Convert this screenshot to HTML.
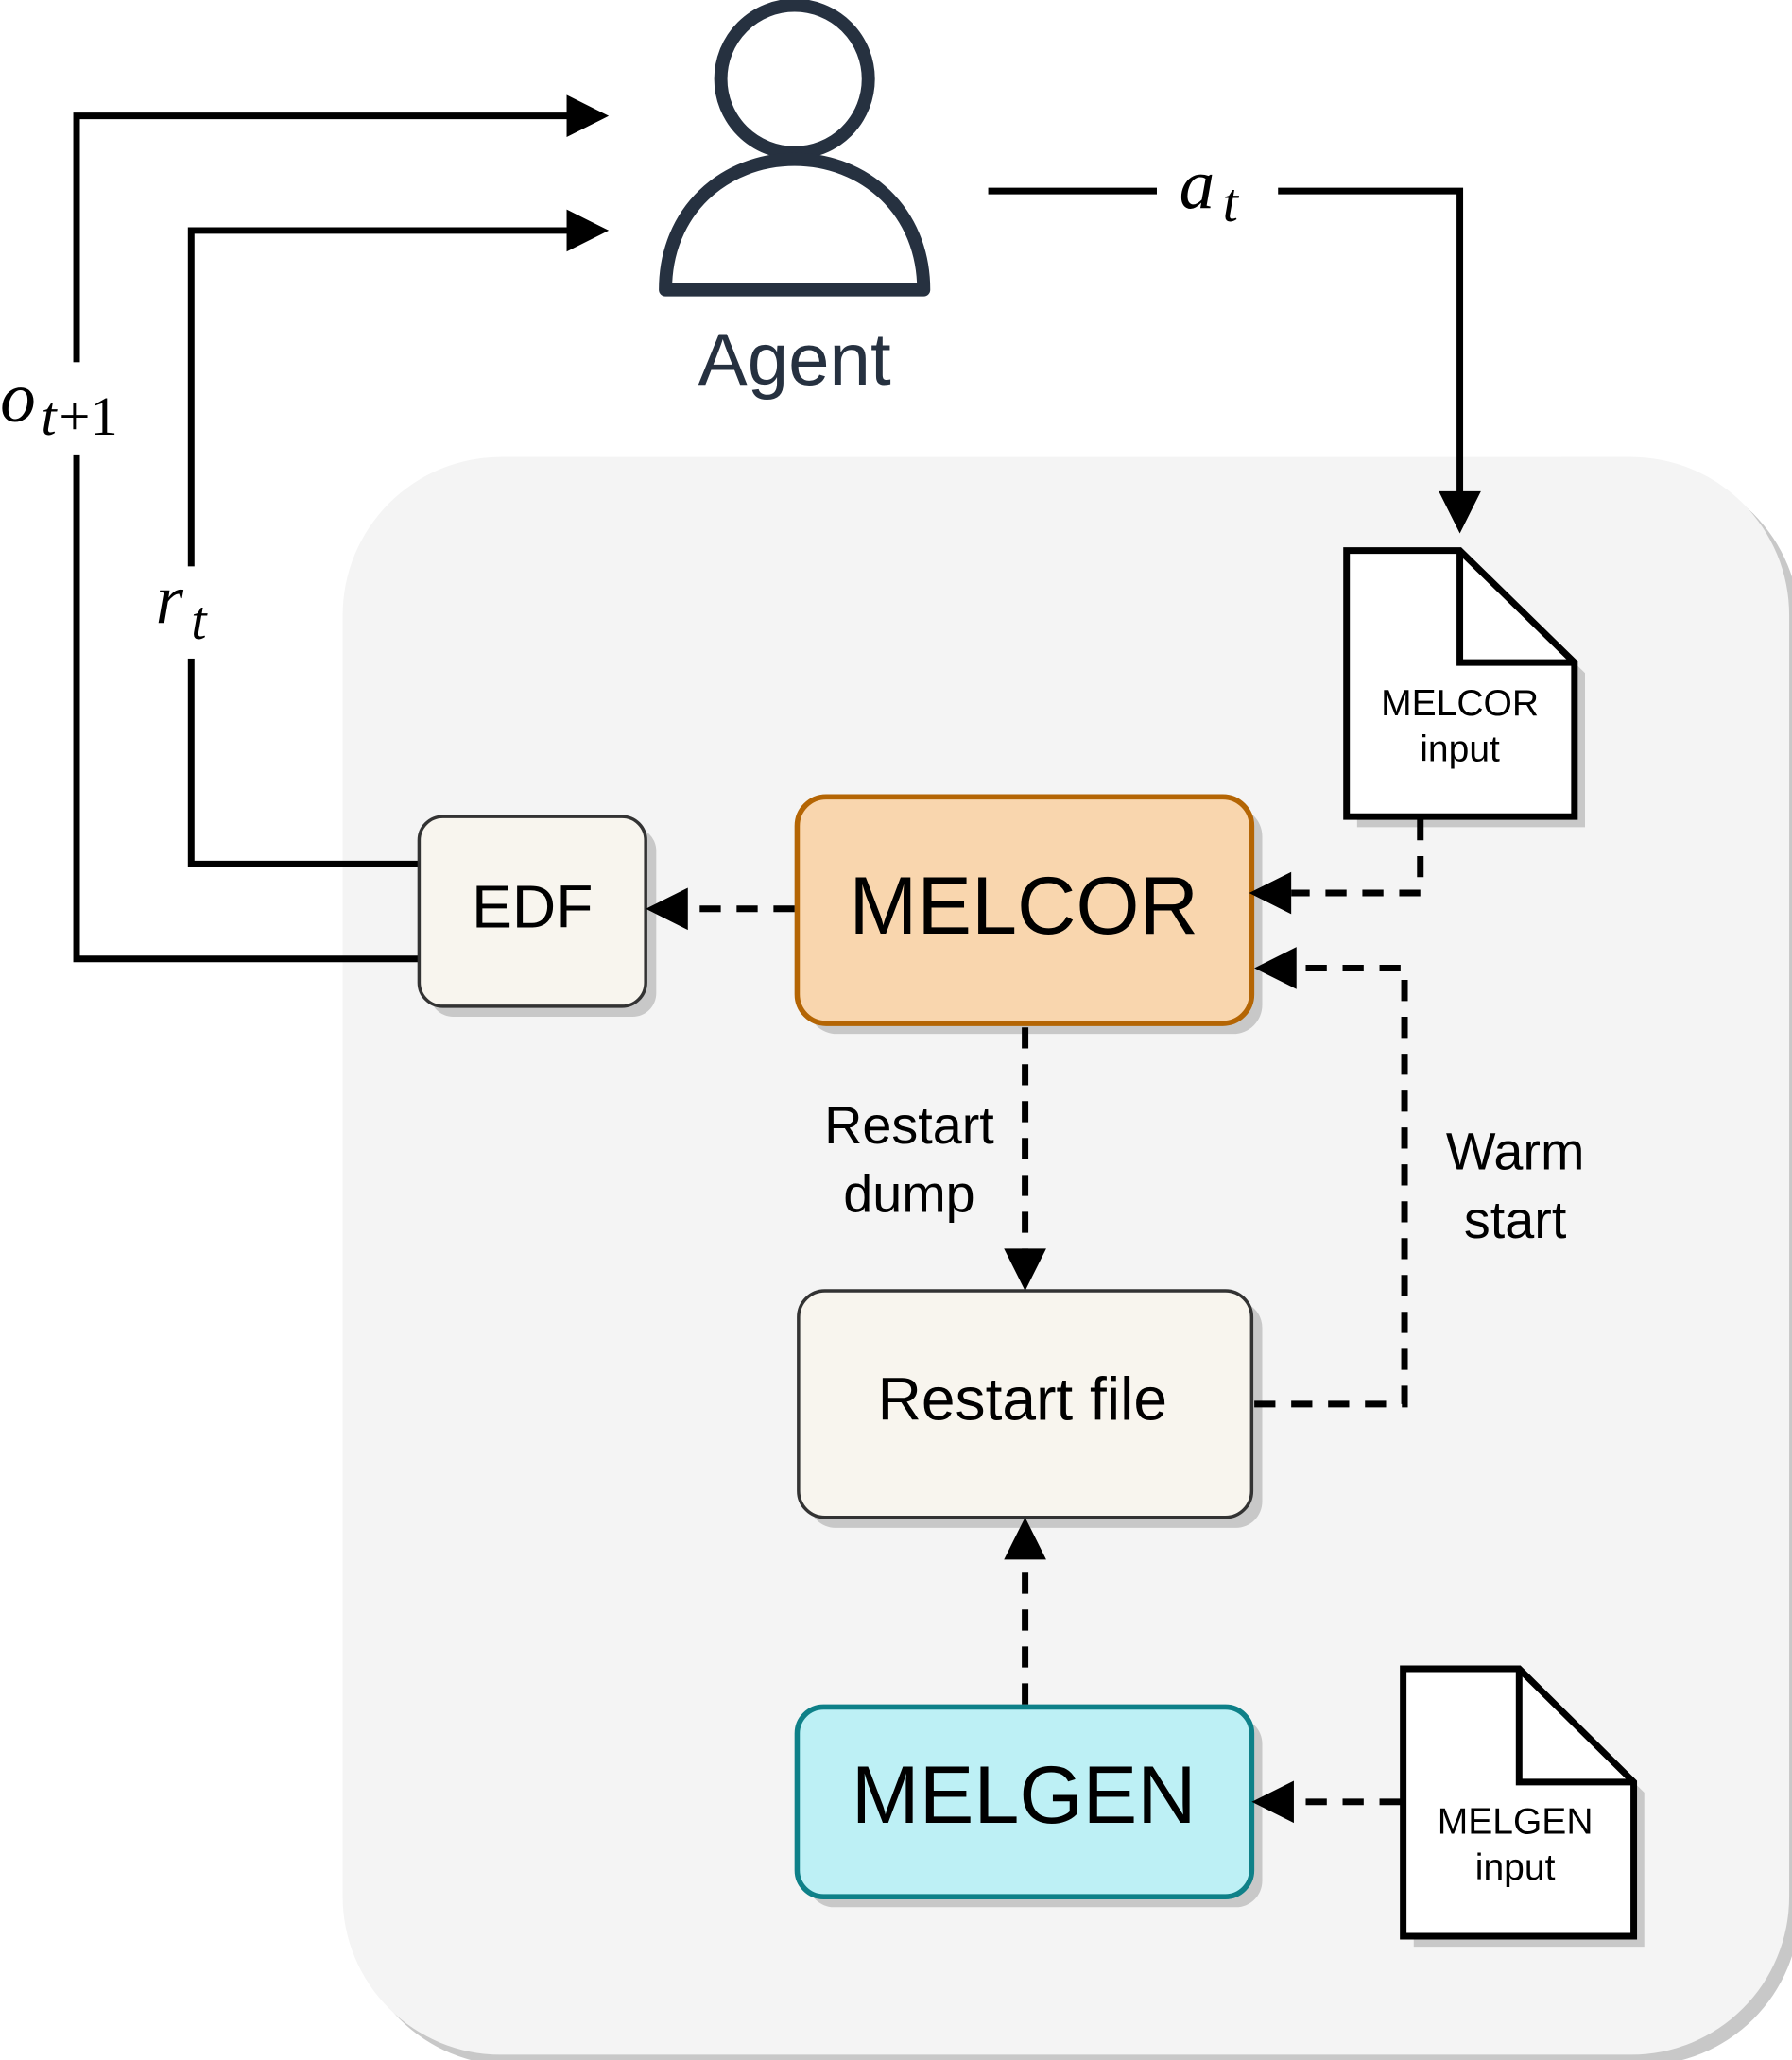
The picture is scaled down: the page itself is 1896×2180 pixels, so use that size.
<!DOCTYPE html>
<html><head><meta charset="utf-8"><style>
html,body{margin:0;padding:0;background:#fff;}
svg{display:block;}
text{font-family:"Liberation Sans",sans-serif;}
.m{font-family:"Liberation Serif",serif;font-style:italic;}
</style></head><body>
<svg width="1896" height="2180" viewBox="0 0 1360 1564" xmlns="http://www.w3.org/2000/svg">
<!-- container -->
<rect x="268" y="355" width="1098" height="1213" rx="120" fill="#c8c8c8"/>
<rect x="260" y="347" width="1098" height="1213" rx="120" fill="#f4f4f4"/>

<!-- agent -->
<circle cx="603" cy="60" r="56" fill="none" stroke="#263140" stroke-width="10"/>
<path d="M505,220 C505,160 550,121 603,121 C656,121 701,160 701,220 Z" fill="none" stroke="#263140" stroke-width="10" stroke-linejoin="round"/>
<text x="603" y="292" font-size="56" fill="#263140" text-anchor="middle">Agent</text>

<g stroke="#000" stroke-width="5" fill="none">
<polyline points="318,728 58,728 58,88 432,88"/>
<polyline points="318,656 145,656 145,175 432,175"/>
<polyline points="750,145 1108,145 1108,375"/>
</g>
<g fill="#000">
<polygon points="462,88 430,72 430,104"/>
<polygon points="462,175 430,159 430,191"/>
<polygon points="1108,405 1092,373 1124,373"/>
</g>
<rect x="20" y="275" width="90" height="70" fill="#fff"/>
<rect x="110" y="430" width="70" height="70" fill="#fff"/>
<rect x="878" y="115" width="92" height="60" fill="#fff"/>
<text class="m" x="0" y="320" font-size="54">o<tspan font-size="42" dx="4" dy="10" font-style="italic">t</tspan><tspan font-size="42" font-style="normal" dx="2">+1</tspan></text>
<text class="m" x="118" y="473" font-size="54">r<tspan font-size="42" dx="6" dy="12">t</tspan></text>
<text class="m" x="895" y="158" font-size="54">a<tspan font-size="42" dx="6" dy="10">t</tspan></text>

<!-- MELCOR input doc -->
<polygon points="1030,426 1116,426 1203,511 1203,628 1030,628" fill="#c8c8c8"/>
<polygon points="1022,418 1108,418 1195,503 1195,620 1022,620" fill="#fff" stroke="#000" stroke-width="5"/>
<polyline points="1108,418 1108,503 1195,503" fill="none" stroke="#000" stroke-width="5"/>
<text x="1108" y="543" font-size="28" text-anchor="middle">MELCOR</text>
<text x="1108" y="578" font-size="28" text-anchor="middle">input</text>

<!-- MELGEN input doc -->
<polygon points="1073,1275 1161,1275 1248,1361 1248,1478 1073,1478" fill="#c8c8c8"/>
<polygon points="1065,1267 1153,1267 1240,1353 1240,1470 1065,1470" fill="#fff" stroke="#000" stroke-width="5"/>
<polyline points="1153,1267 1153,1353 1240,1353" fill="none" stroke="#000" stroke-width="5"/>
<text x="1150" y="1392" font-size="28" text-anchor="middle">MELGEN</text>
<text x="1150" y="1427" font-size="28" text-anchor="middle">input</text>

<!-- EDF -->
<rect x="326" y="628" width="172" height="144" rx="18" fill="#c8c8c8"/>
<rect x="318" y="620" width="172" height="144" rx="18" fill="#f8f5ee" stroke="#333" stroke-width="2.5"/>
<text x="404" y="704" font-size="46" text-anchor="middle">EDF</text>

<!-- MELCOR -->
<rect x="613" y="613" width="345" height="172" rx="22" fill="#c8c8c8"/>
<rect x="605" y="605" width="345" height="172" rx="22" fill="#f9d6ae" stroke="#b46504" stroke-width="4"/>
<text x="777" y="709" font-size="62" text-anchor="middle">MELCOR</text>

<!-- Restart file -->
<rect x="614" y="988" width="344" height="172" rx="20" fill="#c8c8c8"/>
<rect x="606" y="980" width="344" height="172" rx="20" fill="#f8f5ee" stroke="#333" stroke-width="2.5"/>
<text x="776" y="1078" font-size="46" text-anchor="middle">Restart file</text>

<!-- MELGEN -->
<rect x="613" y="1304" width="345" height="144" rx="20" fill="#c8c8c8"/>
<rect x="605" y="1296" width="345" height="144" rx="20" fill="#bdf0f5" stroke="#0e8088" stroke-width="4"/>
<text x="777" y="1384" font-size="62" text-anchor="middle">MELGEN</text>

<g stroke="#000" stroke-width="5" fill="none" stroke-dasharray="16,12">
<polyline points="603,690 520,690"/>
<polyline points="1078,622 1078,678 980,678"/>
<polyline points="778,780 778,950"/>
<polyline points="952,1066 1066,1066 1066,735 982,735"/>
<polyline points="778,1294 778,1182"/>
<polyline points="1063,1368 982,1368"/>
</g>
<g fill="#000">
<polygon points="490,690 522,674 522,706"/>
<polygon points="948,678 980,662 980,694"/>
<polygon points="778,980 762,948 794,948"/>
<polygon points="952,735 984,719 984,751"/>
<polygon points="778,1152 762,1184 794,1184"/>
<polygon points="950,1368 982,1352 982,1384"/>
</g>
<text x="690" y="868" font-size="40" text-anchor="middle">Restart</text>
<text x="690" y="920" font-size="40" text-anchor="middle">dump</text>
<text x="1150" y="888" font-size="40" text-anchor="middle">Warm</text>
<text x="1150" y="940" font-size="40" text-anchor="middle">start</text>
</svg>
</body></html>
